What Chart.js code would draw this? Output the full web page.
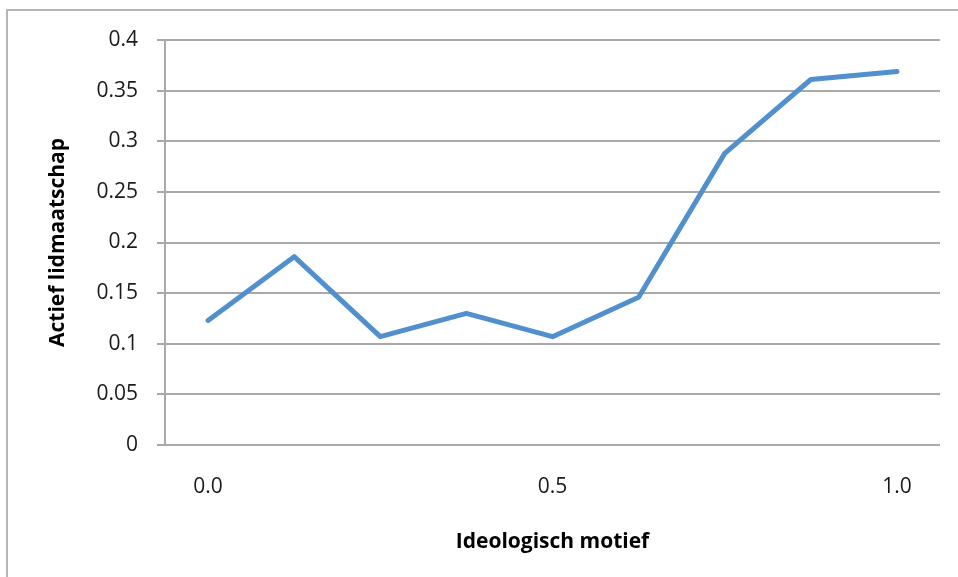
<!DOCTYPE html>
<html>
<head>
<meta charset="utf-8">
<script src="https://cdn.jsdelivr.net/npm/chart.js@4"></script>
<style>
html,body{margin:0;padding:0;background:#fff;}
#wrap{position:relative;width:958px;height:577px;}
</style>
</head>
<body>
<div id="wrap"><canvas id="c" width="958" height="577"></canvas></div>
<script>
const categories = ['0.0','0.125','0.25','0.375','0.5','0.625','0.75','0.875','1.0'];
const shownXLabels = ['0.0','0.5','1.0'];
const actiefValues = [0.123, 0.186, 0.107, 0.130, 0.107, 0.146, 0.288, 0.361, 0.369];
const yTickLabels = ['0','0.05','0.1','0.15','0.2','0.25','0.3','0.35','0.4'];
const xTitle = 'Ideologisch motief';
const yTitle = 'Actief lidmaatschap';

const gridColor = '#a9a9a9';
const FONT = "'Open Sans', 'Liberation Sans', sans-serif";

const frame = {
  id: 'frame',
  beforeDraw(chart){
    const ctx = chart.ctx;
    ctx.save();
    ctx.strokeStyle = '#b5b5b5';
    ctx.lineWidth = 2;
    ctx.beginPath();
    ctx.moveTo(7, 577);
    ctx.lineTo(7, 10);
    ctx.lineTo(958, 10);
    ctx.stroke();
    ctx.restore();
  }
};

new Chart(document.getElementById('c'), {
  type: 'line',
  data: {
    labels: categories,
    datasets: [{
      data: actiefValues,
      borderColor: '#5290cd',
      borderWidth: 5,
      pointRadius: 0,
      tension: 0,
      borderCapStyle: 'round',
      borderJoinStyle: 'round',
      fill: false
    }]
  },
  plugins: [frame],
  options: {
    responsive: false,
    animation: false,
    events: [],
    layout: { padding: { left: 0, top: 40, right: 18, bottom: 0 } },
    plugins: { legend: { display: false }, tooltip: { enabled: false } },
    scales: {
      x: {
        type: 'category',
        offset: true,
        grid: { display: false, drawTicks: false },
        border: { display: false },
        ticks: {
          autoSkip: false,
          maxRotation: 0,
          padding: 29,
          color: '#1a1a1a',
          font: { family: FONT, size: 21 },
          callback: function(v, i){ const l = categories[i]; return shownXLabels.includes(l) ? l : ''; }
        },
        title: {
          display: true, text: xTitle, color: '#000',
          font: { family: FONT, size: 21, weight: 'bold' },
          padding: { top: 0, bottom: 22 }
        },
        afterFit(s){ s.height = 132; }
      },
      y: {
        min: 0, max: 0.4,
        ticks: {
          stepSize: 0.05,
          padding: 19,
          color: '#1a1a1a',
          font: { family: FONT, size: 21 },
          callback: function(v){ const i = Math.round(v / 0.05); return yTickLabels[i]; }
        },
        grid: { color: gridColor, lineWidth: 2, tickLength: 8, drawTicks: true },
        border: { display: true, color: gridColor, width: 2 },
        title: {
          display: true, text: yTitle, color: '#000',
          font: { family: FONT, size: 21, weight: 'bold' },
          padding: { top: 45, bottom: 0 }
        },
        afterFit(s){ s.width = 165; }
      }
    }
  }
});
</script>
</body>
</html>
